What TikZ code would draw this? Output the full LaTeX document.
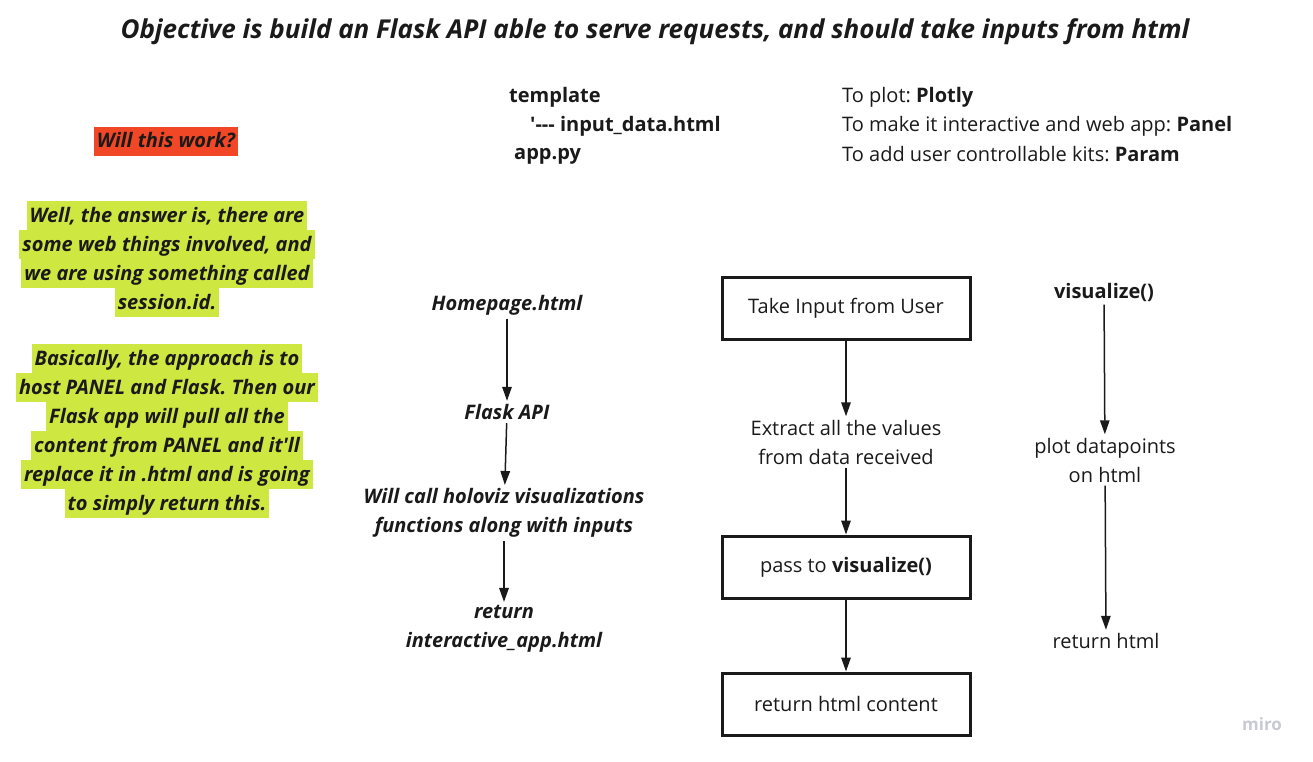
\documentclass[tikz,border=0pt]{standalone}
\usepackage{fontspec}
\setmainfont{Open Sans}
\usetikzlibrary{arrows.meta}
\definecolor{inkgray}{HTML}{1A1A1A}
\definecolor{hllime}{HTML}{CEE741}
\definecolor{hlred}{HTML}{F24726}
\definecolor{mirogray}{HTML}{C8CAD3}
\newcommand{\hlline}[2][hllime]{{\setlength{\fboxsep}{0pt}\colorbox{#1}{\rule[-8pt]{0pt}{29pt}\hspace{3pt}#2\hspace{3pt}}}}
\frenchspacing
\tikzset{
  plain/.style={font=\fontsize{20}{29}\selectfont, text=inkgray, align=center},
  note/.style={plain, font=\fontsize{20}{29}\selectfont\bfseries\itshape},
  listitem/.style={plain, anchor=west, inner sep=0pt},
  stepbox/.style={plain, draw=inkgray, line width=3pt, minimum width=248pt, minimum height=62pt},
  flow/.style={-{Triangle[length=14pt,width=9.5pt]}, line width=1.5pt, draw=inkgray}
}
\begin{document}
\begin{tikzpicture}[x=1pt,y=-1pt]
\useasboundingbox (0,0) rectangle (1313,761);
\node [note, font=\fontsize{26}{30}\selectfont\bfseries\itshape] (title) at (655,32)
	{Objective is build an Flask API able to serve requests, and should take inputs from html};
% left notes
\node [note] (question) at (166,141) {\hlline[hlred]{Will this work?}};
\node [note] (answer) at (167,259) {\hlline{Well, the answer is, there are}\\
	\hlline{some web things involved, and}\\ \hlline{we are using something called}\\
	\hlline{session.id.}};
\node [note] (approach) at (167,431) {\hlline{Basically, the approach is to}\\
	\hlline{host PANEL and Flask. Then our}\\ \hlline{Flask app will pull all the}\\
	\hlline{content from PANEL and it\textquotesingle ll}\\ \hlline{replace it in .html and is going}\\
	\hlline{to simply return this.}};
% files and tools
\node [listitem, font=\fontsize{20}{29}\selectfont\bfseries] (tmpl) at (509,97) {template};
\node [listitem, font=\fontsize{20}{29}\selectfont\bfseries] (tmplfile) at (530,126) {\textquotesingle{-}{-}{-} input\_data.html};
\node [listitem, font=\fontsize{20}{29}\selectfont\bfseries] (apppy) at (514,156) {app.py};
\node [listitem] (toplot) at (842,97) {To plot: \textbf{Plotly}};
\node [listitem] (topanel) at (842,126) {To make it interactive and web app: \textbf{Panel}};
\node [listitem] (toparam) at (842,154) {To add user controllable kits: \textbf{Param}};
% flask column
\node [note] (home) at (507,305) {Homepage.html};
\node [note] (flask) at (507,412) {Flask API};
\node [note] (holoviz) at (504,513) {Will call holoviz visualizations\\ functions along with inputs};
\node [note] (interactive) at (504,629) {return\\ interactive\_app.html};
\draw [flow] (home) -- (flask);
\draw [flow] (flask) -- (holoviz);
\draw [flow] (holoviz) -- (interactive);
% process column
\node [stepbox] (take) at (846,308) {Take Input from User};
\node [plain] (extract) at (846,442) {Extract all the values\\ from data received};
\node [stepbox] (pass) at (846,567) {pass to \textbf{visualize()}};
\node [stepbox] (content) at (846,704) {return html content};
\draw [flow] (take) -- (extract);
\draw [flow] (extract) -- (pass);
\draw [flow] (pass) -- (content);
% visualize column
\node [plain, font=\fontsize{20}{29}\selectfont\bfseries] (visualize) at (1104,292) {visualize()};
\node [plain] (plotpts) at (1105,460) {plot datapoints\\ on html};
\node [plain] (rethtml) at (1106,641) {return html};
\draw [flow] (visualize) -- (plotpts);
\draw [flow] (plotpts) -- (rethtml);
\node [text=mirogray, font=\fontsize{17}{20}\selectfont\bfseries] (miro) at (1262,724) {miro};
\end{tikzpicture}
\end{document}
